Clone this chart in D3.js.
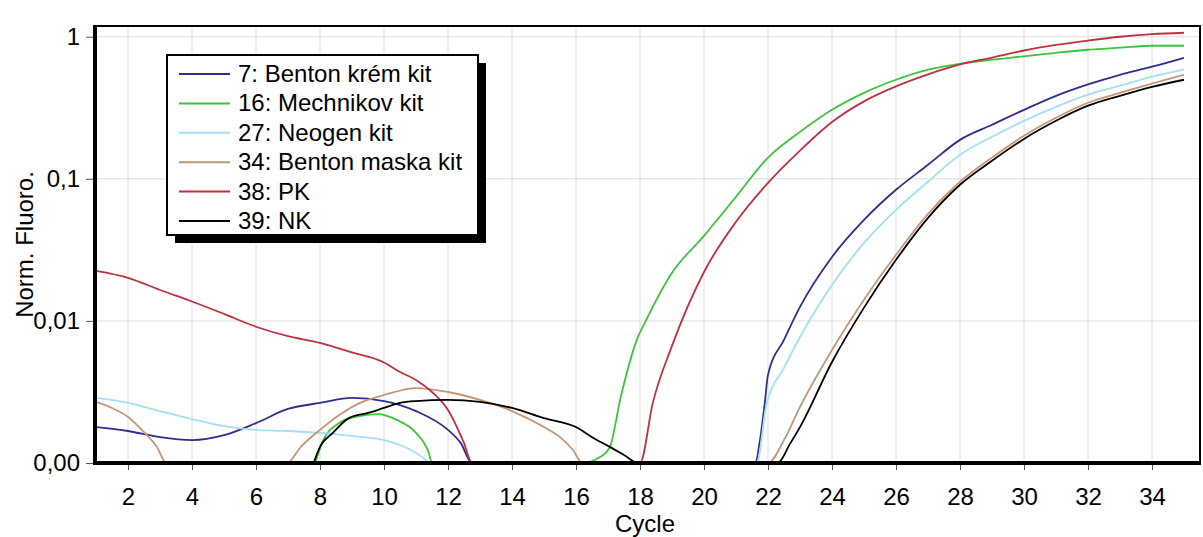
<!DOCTYPE html>
<html>
<head>
<meta charset="utf-8">
<script src="https://cdn.jsdelivr.net/npm/d3@7"></script>
<style>
  body { margin: 0; background: #fff; }
  svg text { font-family: "Liberation Sans", Arial, sans-serif; fill: #000; }
</style>
</head>
<body>
<script>
// readings: [cycle, normalized fluorescence]
const bentonKrem = [[1,0.00179],[2,0.00168],[3,0.00152],[4,0.00145],[5,0.00157],[6,0.00191],[7,0.0024],[8,0.00265],[9,0.00287],[10,0.00273],[11,0.00232],[12,0.00171],[12.4,0.00138],[12.75,0.001],
  [21.6,0.001],[21.75,0.00145],[21.9,0.00265],[22,0.00417],[22.5,0.00735],[23,0.01255],[24,0.0282],[25,0.0514],[26,0.0837],[27,0.1255],[28,0.188],[29,0.24],[30,0.306],[31,0.384],[32,0.462],[33,0.54],[34,0.615],[35,0.711]];
const mechnikov = [[7.85,0.001],[8.1,0.00145],[8.6,0.00191],[9.1,0.00211],[9.8,0.00221],[10.4,0.00201],[11,0.00163],[11.4,0.00118],[11.5,0.001],
  [16.2,0.001],[16.75,0.0011],[17.05,0.00128],[17.4,0.00292],[17.9,0.00735],[18.2,0.0102],[19,0.0218],[20,0.0397],[21,0.0747],[22,0.141],[23,0.214],[24,0.306],[25,0.403],[26,0.498],[27,0.586],[28,0.645],[29,0.689],[30,0.728],[31,0.771],[32,0.81],[33,0.837],[34,0.864],[35,0.864]];
const neogen = [[1,0.00287],[2,0.00265],[3,0.00232],[4,0.00204],[5,0.00182],[6,0.00171],[7,0.00168],[8,0.00163],[9,0.00155],[10,0.00145],[10.7,0.00128],[11.2,0.0011],[11.45,0.001],
  [21.65,0.001],[21.95,0.00256],[22.5,0.00467],[23,0.0077],[24,0.0179],[25,0.0354],[26,0.0605],[27,0.0953],[28,0.1476],[29,0.198],[30,0.256],[31,0.321],[32,0.391],[33,0.452],[34,0.523],[35,0.586]];
const bentonMaska = [[1,0.00269],[1.5,0.00244],[2,0.00211],[2.5,0.00165],[2.9,0.0013],[3.2,0.001],
  [6.97,0.001],[7.4,0.0013],[8,0.00171],[8.6,0.00218],[9.25,0.00265],[10,0.00301],[11,0.00337],[12,0.00316],[13,0.00278],[14,0.00232],[15,0.00179],[15.5,0.00152],[15.9,0.00124],[16.2,0.001],
  [22,0.001],[22.5,0.00145],[23,0.00248],[24,0.00625],[25,0.0141],[26,0.0292],[27,0.0567],[28,0.0953],[29,0.141],[30,0.201],[31,0.269],[32,0.343],[33,0.403],[34,0.467],[35,0.54]];
const pk = [[1,0.0225],[2,0.0201],[3,0.0165],[4,0.0137],[5,0.0112],[6,0.0091],[7,0.0078],[8,0.007],[9,0.006],[10,0.0051],[10.5,0.00437],[11,0.00384],[11.5,0.00316],[12,0.00236],[12.5,0.00138],[12.75,0.001],
  [18,0.001],[18.4,0.00265],[19,0.00667],[20,0.0221],[21,0.0498],[22,0.0937],[23,0.158],[24,0.251],[25,0.351],[26,0.447],[27,0.543],[28,0.638],[29,0.713],[30,0.80],[31,0.875],[32,0.94],[33,1.0],[34,1.042],[35,1.067]];
const nk = [[7.8,0.001],[8,0.0013],[8.4,0.00163],[8.9,0.00207],[9.5,0.00225],[10,0.00244],[10.5,0.00265],[11,0.00273],[12,0.00278],[13,0.00269],[14,0.00244],[15,0.00207],[16,0.00179],[16.5,0.00152],[17,0.00132],[17.5,0.00114],[17.95,0.001],
  [22.3,0.001],[22.7,0.00138],[23,0.00179],[24,0.00514],[25,0.0124],[26,0.0269],[27,0.0531],[28,0.0908],[29,0.134],[30,0.191],[31,0.256],[32,0.327],[33,0.384],[34,0.444],[35,0.498]];

const seriesNames = ['7: Benton krém kit', '16: Mechnikov kit', '27: Neogen kit', '34: Benton maska kit', '38: PK', '39: NK'];
const seriesData = [bentonKrem, mechnikov, neogen, bentonMaska, pk, nk];
const seriesColors = ['#2e2e8c', '#3cc43c', '#a4e0f2', '#c49676', '#c03040', '#000000'];

const xTicks = [2, 4, 6, 8, 10, 12, 14, 16, 18, 20, 22, 24, 26, 28, 30, 32, 34];
const yTicks = [1, 0.1, 0.01, 0.001];
const yTickLabels = ['1', '0,1', '0,01', '0,00'];

const W = 1203, H = 537;
const plot = {left: 95, right: 1200, top: 26, bottom: 463};

const svg = d3.select('body').append('svg')
    .attr('width', W)
    .attr('height', H);

const x = d3.scaleLinear().domain([1, 35.5]).range([plot.left + 1, plot.right]);
const y = d3.scaleLog().domain([0.001, 1.19]).range([plot.bottom, plot.top]);

// grid
svg.append('g')
  .selectAll('line')
  .data(xTicks)
  .enter().append('line')
  .attr('x1', d => x(d)).attr('x2', d => x(d))
  .attr('y1', plot.top).attr('y2', plot.bottom)
  .style('stroke', '#dedede');
svg.append('g')
  .selectAll('line')
  .data(yTicks.slice(0, 3))
  .enter().append('line')
  .attr('x1', plot.left).attr('x2', plot.right)
  .attr('y1', d => y(d)).attr('y2', d => y(d))
  .style('stroke', '#dedede');

svg.append('clipPath').attr('id', 'plotclip')
  .append('rect')
  .attr('x', plot.left).attr('y', plot.top)
  .attr('width', plot.right - plot.left).attr('height', plot.bottom - plot.top);

const line = d3.line()
    .x(d => x(d[0]))
    .y(d => y(d[1]))
    .curve(d3.curveMonotoneX);

svg.append('g')
  .attr('clip-path', 'url(#plotclip)')
  .selectAll('path')
  .data(seriesData)
  .enter().append('path')
  .attr('d', line)
  .style('fill', 'none')
  .style('stroke', (d, i) => seriesColors[i])
  .style('stroke-width', '1.8px');

// frame: thin top/right, heavy left/bottom
svg.append('rect')
  .attr('x', plot.left).attr('y', plot.top)
  .attr('width', plot.right - plot.left).attr('height', plot.bottom - plot.top)
  .style('fill', 'none')
  .style('stroke', '#000')
  .style('stroke-width', 2);

const yAxis = d3.axisLeft(y)
    .tickValues(yTicks)
    .tickFormat((d, i) => yTickLabels[i])
    .tickSize(9)
    .tickPadding(6);
const xAxis = d3.axisBottom(x)
    .tickValues(xTicks)
    .tickFormat(d3.format('d'))
    .tickSize(7)
    .tickPadding(18);

svg.append('g')
  .attr('class', 'y axis')
  .attr('transform', `translate(${plot.left},0)`)
  .call(yAxis)
  .call(g => g.select('.domain').remove())
  .call(g => g.selectAll('.tick line').style('stroke', '#555'))
  .call(g => g.selectAll('text').style('font-size', '24px'));

svg.append('g')
  .attr('class', 'x axis')
  .attr('transform', `translate(0,${plot.bottom})`)
  .call(xAxis)
  .call(g => g.select('.domain').remove())
  .call(g => g.selectAll('.tick line').style('stroke', '#555'))
  .call(g => g.selectAll('text').style('font-size', '24px'));

svg.append('line')
  .attr('x1', plot.left).attr('x2', plot.left)
  .attr('y1', plot.top - 1).attr('y2', plot.bottom + 2)
  .style('stroke', '#000').style('stroke-width', 4);
svg.append('line')
  .attr('x1', plot.left - 2).attr('x2', plot.right + 1)
  .attr('y1', plot.bottom).attr('y2', plot.bottom)
  .style('stroke', '#000').style('stroke-width', 4);

// axis titles
svg.append('text')
  .attr('transform', `translate(33,${(plot.top + plot.bottom) / 2}) rotate(-90)`)
  .attr('text-anchor', 'middle')
  .style('font-size', '24px')
  .text('Norm. Fluoro.');
svg.append('text')
  .attr('x', 645)
  .attr('y', 532)
  .attr('text-anchor', 'middle')
  .style('font-size', '24px')
  .text('Cycle');

// legend with drop shadow
const lg = svg.append('g').attr('transform', 'translate(167,55)');
lg.append('rect')
  .attr('x', 8).attr('y', 8)
  .attr('width', 311).attr('height', 180)
  .style('fill', '#000');
lg.append('rect')
  .attr('width', 311).attr('height', 180)
  .style('fill', '#fff')
  .style('stroke', '#000')
  .style('stroke-width', 2);
const rows = lg.selectAll('g.row')
  .data(seriesNames)
  .enter().append('g')
  .attr('class', 'row')
  .attr('transform', (d, i) => `translate(0,${27 + i * 29.4})`);
rows.append('line')
  .attr('x1', 12).attr('x2', 63)
  .attr('y1', -8).attr('y2', -8)
  .style('stroke', (d, i) => seriesColors[i])
  .style('stroke-width', 2);
rows.append('text')
  .attr('x', 71)
  .style('font-size', '24px')
  .text(d => d);
</script>
</body>
</html>
